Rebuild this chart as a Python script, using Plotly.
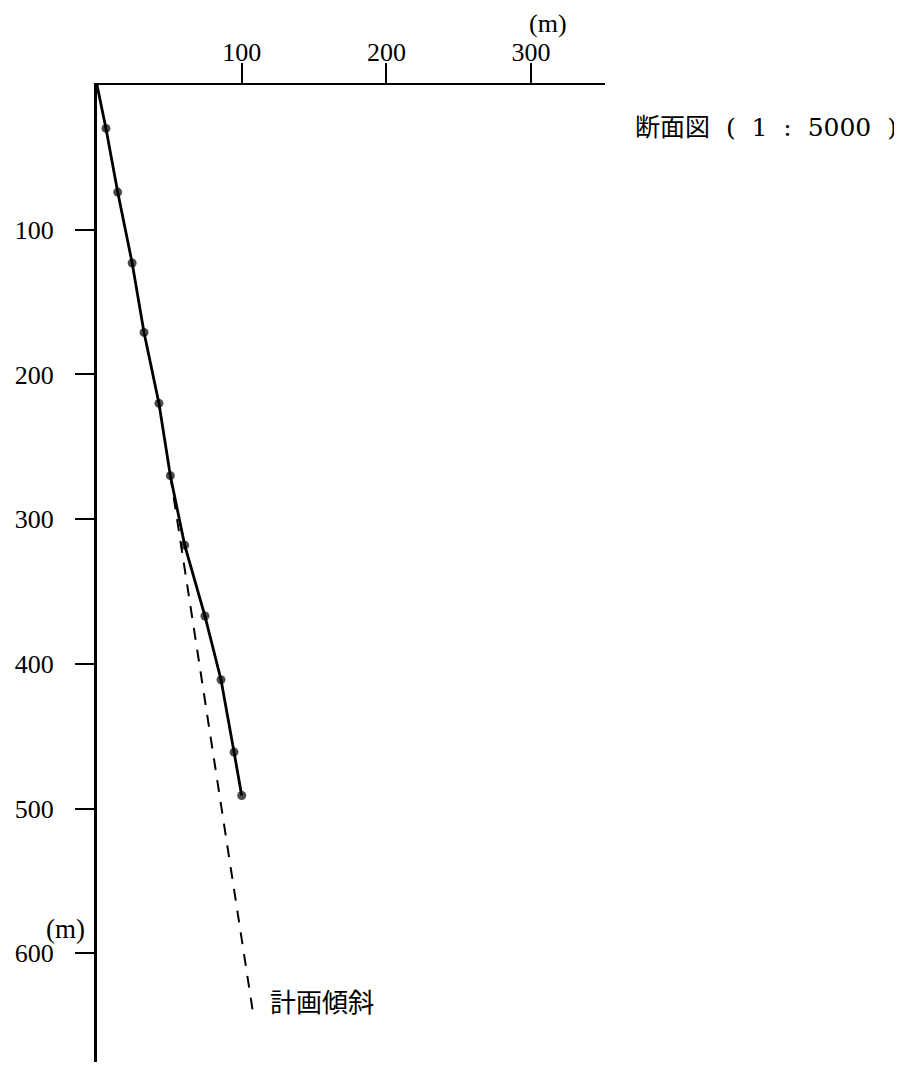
import plotly.graph_objects as go

# Surveyed borehole trajectory (horizontal displacement, depth), metres
offset_m = [0, 6.2, 14.3, 24.3, 32.5, 42.8, 50.7, 60.6, 74.6, 85.7, 94.7, 100.0]
depth_m = [0, 30, 74, 123, 171, 220, 270, 318, 367, 411, 461, 491]
marker_on = [False] + [True] * 11

# Planned inclination (dashed)
plan_offset_m = [50.7, 107.5]
plan_depth_m = [270, 639]

x_tick_vals = [100, 200, 300]
x_tick_text = ["100", "200", "300"]
y_tick_vals = [100, 200, 300, 400, 500, 600]
y_tick_text = ["100", "200", "300", "400", "500", "600"]

SERIF = "DejaVu Serif, Liberation Serif, Noto Sans CJK JP, serif"
TICK = "Liberation Serif, DejaVu Serif, serif"

fig = go.Figure()
fig.add_trace(go.Scatter(
    x=plan_offset_m, y=plan_depth_m, mode="lines",
    line=dict(color="black", width=2, dash="12px,10px"),
    hoverinfo="skip", showlegend=False))
fig.add_trace(go.Scatter(
    x=offset_m, y=depth_m, mode="lines+markers",
    line=dict(color="black", width=2.8),
    marker=dict(color="black", size=[9 if m else 0 for m in marker_on],
                line=dict(width=0)),
    showlegend=False))

OFF = 8  # page body margin of the html page
W, H = 902 - OFF, 1066 - OFF
L, R, T, B = 97 - OFF, 297, 85 - OFF, 4
pw, ph = W - L - R, H - T - B

def px(xp):
    return (xp - OFF - L) / pw

def py(yp):
    return 1 - (yp - OFF - T) / ph

fig.update_layout(
    width=W, height=H,
    margin=dict(l=L, r=R, t=T, b=B, pad=0, autoexpand=False),
    plot_bgcolor="white", paper_bgcolor="white",
    font=dict(family=SERIF, color="black", size=21),
    xaxis=dict(range=[0, pw / 1.447], side="top", showgrid=False, zeroline=False,
               automargin=False,
               showline=True, linecolor="black", linewidth=2,
               ticks="outside", ticklen=20, tickwidth=2, tickcolor="black",
               tickvals=x_tick_vals, ticktext=x_tick_text,
               tickfont=dict(family=TICK, size=26), ticklabelstandoff=-8),
    yaxis=dict(range=[ph / 1.447, 0], showgrid=False, zeroline=False,
               automargin=False,
               showline=True, linecolor="black", linewidth=3,
               ticks="outside", ticklen=19, tickwidth=2, tickcolor="black",
               tickvals=y_tick_vals, ticktext=y_tick_text,
               tickfont=dict(family=TICK, size=26), ticklabelstandoff=16),
    annotations=[
        dict(text="(m)", xref="paper", yref="paper", x=px(548), y=py(24),
             xanchor="center", yanchor="middle",
             showarrow=False, font=dict(family=TICK, size=26)),
        dict(text="(m)", xref="paper", yref="paper", x=px(65), y=py(929),
             xanchor="center", yanchor="middle",
             showarrow=False, font=dict(family=TICK, size=27)),
        dict(text="断面図  (  1  :  5000  )", xref="paper", yref="paper",
             x=px(633), y=py(127), xanchor="left", yanchor="middle",
             showarrow=False, font=dict(family=SERIF, size=25)),
        dict(text="計画傾斜", xref="paper", yref="paper",
             x=px(268), y=py(1000), xanchor="left", yanchor="middle",
             showarrow=False, font=dict(family="Noto Sans CJK JP", size=26)),
    ],
)

fig.write_html("out.html")
